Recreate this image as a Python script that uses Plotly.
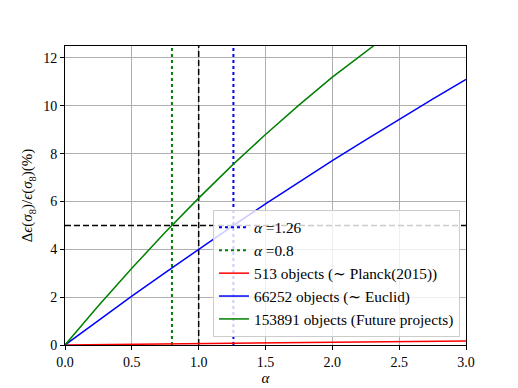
import plotly.graph_objects as go

alpha = [0.0, 0.25, 0.5, 0.75, 1.0, 1.25, 1.5, 1.75, 2.0, 2.25, 2.5, 2.75, 3.0]
planck = [0.0, 0.015, 0.03, 0.045, 0.06, 0.075, 0.09, 0.105, 0.12, 0.135, 0.15, 0.16, 0.17]
euclid = [0.0, 1.03, 2.04, 3.03, 4.01, 4.96, 5.90, 6.81, 7.71, 8.58, 9.44, 10.28, 11.10]
future = [0.0, 1.64, 3.21, 4.71, 6.14, 7.51, 8.80, 10.03, 11.20, 12.29, 13.32, 14.27, 15.16]

alpha_euclid = 1.26
alpha_future = 0.8
alpha_ref = 1.0
threshold = 5.0
y_max = 12.5

fig = go.Figure()

# vertical markers for the alpha needed to reach 5%
fig.add_trace(go.Scatter(x=[alpha_euclid, alpha_euclid], y=[0, y_max], mode="lines",
                         line=dict(color="blue", width=2, dash="dot"),
                         name="<i>α</i> =1.26"))
fig.add_trace(go.Scatter(x=[alpha_future, alpha_future], y=[0, y_max], mode="lines",
                         line=dict(color="green", width=2, dash="dot"),
                         name="<i>α</i> =0.8"))
fig.add_trace(go.Scatter(x=[alpha_ref, alpha_ref], y=[0, y_max], mode="lines",
                         line=dict(color="black", width=1.5, dash="6px,3px"),
                         showlegend=False))
fig.add_trace(go.Scatter(x=[0, 3], y=[threshold, threshold], mode="lines",
                         line=dict(color="black", width=1.5, dash="6px,3px"),
                         showlegend=False))

fig.add_trace(go.Scatter(x=alpha, y=planck, mode="lines", line=dict(color="red", width=1.5),
                         name="513 objects (∼ Planck(2015))"))
fig.add_trace(go.Scatter(x=alpha, y=euclid, mode="lines", line=dict(color="blue", width=1.5),
                         name="66252 objects (∼ Euclid)"))
fig.add_trace(go.Scatter(x=alpha, y=future, mode="lines", line=dict(color="green", width=1.5),
                         name="153891 objects (Future projects)"))

axis_style = dict(showline=True, linecolor="black", linewidth=1, mirror=True,
                  showgrid=True, gridcolor="#b0b0b0", gridwidth=1,
                  ticks="outside", ticklen=4, tickcolor="black", zeroline=False,
                  tickfont=dict(size=14), automargin=False)

fig.update_xaxes(range=[0, 3], dtick=0.5, tickformat=".1f",
                 title=dict(text="<i>α</i>", font=dict(size=15), standoff=2), **axis_style)
fig.update_yaxes(range=[0, y_max], dtick=2,
                 title=dict(text="Δ<i>ϵ</i>(<i>σ</i><sub>8</sub>)/<i>ϵ</i>(<i>σ</i><sub>8</sub>)(%)",
                            font=dict(size=15), standoff=6), **axis_style)

# the page body adds an 8px offset, so the figure is a bit smaller than the window
fig.update_layout(
    width=510, height=380,
    margin=dict(l=57, r=52, t=38, b=43),
    plot_bgcolor="white", paper_bgcolor="white",
    font=dict(family="Liberation Serif, DejaVu Serif, serif", color="black", size=14),
    legend=dict(x=0.985, y=0.027, xanchor="right", yanchor="bottom",
                bgcolor="rgba(255,255,255,0.8)", bordercolor="#cccccc", borderwidth=1,
                font=dict(size=15.3), tracegroupgap=0, itemwidth=30),
)

fig.write_html("out.html")
